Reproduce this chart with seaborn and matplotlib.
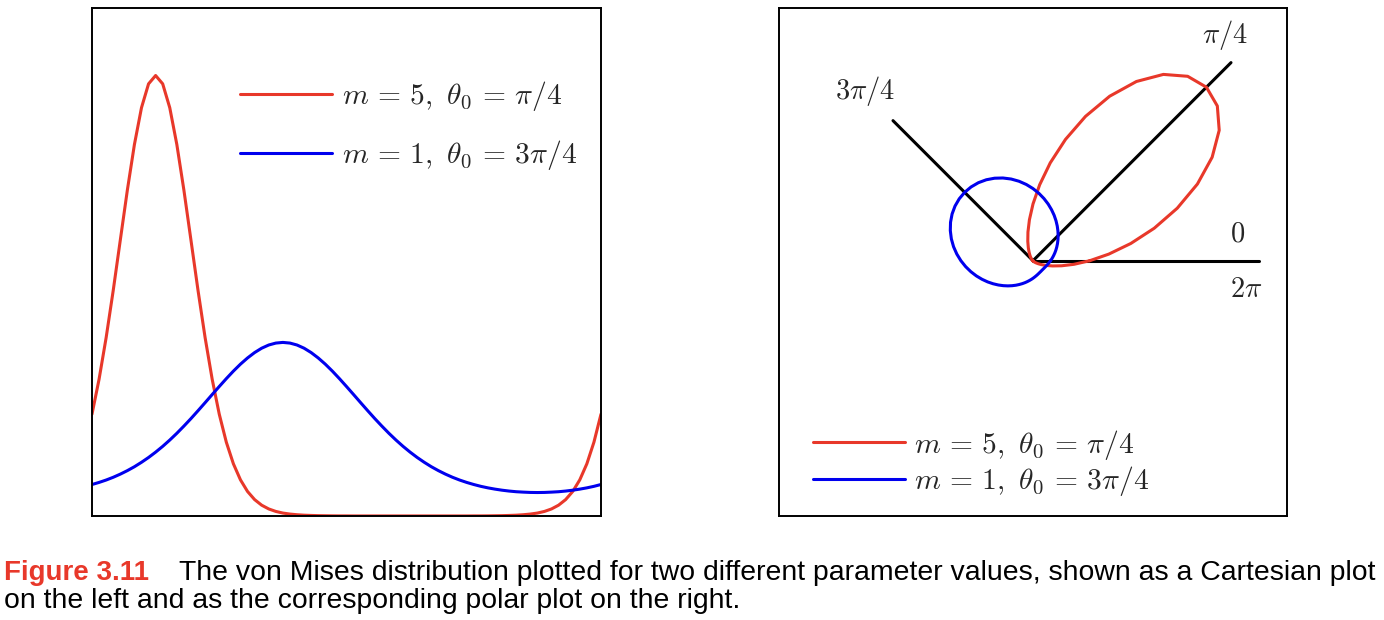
import matplotlib
matplotlib.use("Agg")
import matplotlib.pyplot as plt
import numpy as np
import pandas as pd
import seaborn as sns

# angles (degrees) at which the curves were sampled
angles_deg = np.arange(0, 361, 5)

# m = 5, theta0 = pi/4  (density values)
red_vals = [0.2005, 0.2692, 0.3511, 0.4438, 0.5428, 0.6414, 0.7313, 0.8037, 0.8507, 0.8671,
            0.8507, 0.8037, 0.7313, 0.6414, 0.5428, 0.4438, 0.3511, 0.2692, 0.2005, 0.1453,
            0.1028, 0.0712, 0.0483, 0.0323, 0.0213, 0.0139, 0.0090, 0.0058, 0.0038, 0.0025,
            0.0016, 0.0011, 0.0007, 0.0005, 0.0003, 0.0002, 0.0002, 0.0001, 0.0001, 0.0001,
            0.0001, 0.0001, 0.0001, 0.0001, 0.0001, 0.0001, 0.0001, 0.0001, 0.0001, 0.0001,
            0.0001, 0.0001, 0.0001, 0.0001, 0.0002, 0.0002, 0.0003, 0.0005, 0.0007, 0.0011,
            0.0016, 0.0025, 0.0038, 0.0058, 0.0090, 0.0139, 0.0213, 0.0323, 0.0483, 0.0712,
            0.1028, 0.1453, 0.2005]

# m = 1, theta0 = 3pi/4
blue_vals = [0.0620, 0.0661, 0.0708, 0.0762, 0.0824, 0.0893, 0.0970, 0.1057, 0.1152, 0.1257,
             0.1371, 0.1495, 0.1628, 0.1770, 0.1918, 0.2073, 0.2231, 0.2391, 0.2549, 0.2704,
             0.2852, 0.2989, 0.3111, 0.3217, 0.3303, 0.3366, 0.3404, 0.3417, 0.3404, 0.3366,
             0.3303, 0.3217, 0.3111, 0.2989, 0.2852, 0.2704, 0.2549, 0.2391, 0.2231, 0.2073,
             0.1918, 0.1770, 0.1628, 0.1495, 0.1371, 0.1257, 0.1152, 0.1057, 0.0970, 0.0893,
             0.0824, 0.0762, 0.0708, 0.0661, 0.0620, 0.0584, 0.0554, 0.0529, 0.0508, 0.0491,
             0.0478, 0.0470, 0.0464, 0.0462, 0.0464, 0.0470, 0.0478, 0.0491, 0.0508, 0.0529,
             0.0554, 0.0584, 0.0620]

labels = [r"$m \,=\, 5,\ \theta_0 \,=\, \pi/4$", r"$m \,=\, 1,\ \theta_0 \,=\, 3\pi/4$"]
colors = ["#e8382a", "#0000ee"]

# reference rays in the polar plot
ray_angles = [np.pi / 4, 3 * np.pi / 4, 0.0]
ray_lengths = [0.99, 0.70, 0.80]
ray_text = [r"$\pi/4$", r"$3\pi/4$", r"$0$", r"$2\pi$"]

sns.set_style("white")
plt.rcParams["mathtext.fontset"] = "cm"
plt.rcParams["font.family"] = ["Liberation Sans", "DejaVu Sans"]

FS = 20.5
LFS = 21.3

theta = np.deg2rad(angles_deg)
df = pd.DataFrame({
    "theta": np.concatenate([theta, theta]),
    "p": np.concatenate([red_vals, blue_vals]),
    "series": [labels[0]] * len(theta) + [labels[1]] * len(theta),
})
df["x"] = df["p"] * np.cos(df["theta"])
df["y"] = df["p"] * np.sin(df["theta"])

fig = plt.figure(figsize=(13.84, 6.2), dpi=100)
ax1 = fig.add_axes([92 / 1384, 1 - 516 / 620, 509 / 1384, 508 / 620])
ax2 = fig.add_axes([779 / 1384, 1 - 516 / 620, 508 / 1384, 508 / 620])

# cartesian plot
for lab, col in zip(labels, colors):
    d = df[df.series == lab]
    sns.lineplot(x=d["theta"].values, y=d["p"].values, ax=ax1, color=col, lw=2.2,
                 label=lab, sort=False, estimator=None)
ax1.set_xlim(0, 2 * np.pi)
ax1.set_ylim(0, 1.0)
ax1.legend(loc="upper left", bbox_to_anchor=(0.268, 0.883), frameon=False,
           fontsize=LFS, handlelength=3.1, handletextpad=0.33, labelspacing=0.85,
           borderaxespad=0)

# polar plot drawn on a cartesian axis
for a, l in zip(ray_angles, ray_lengths):
    ax2.plot([0, l * np.cos(a)], [0, l * np.sin(a)], color="black", lw=2.2)
for lab, col in zip(labels, colors):
    d = df[df.series == lab]
    sns.lineplot(x=d["x"].values, y=d["y"].values, ax=ax2, color=col, lw=2.2,
                 label=lab, sort=False, estimator=None)
ax2.set_xlim(-0.898, 0.898)
ax2.set_ylim(-0.902, 0.893)
ax2.text(0.677, 0.797, ray_text[0], fontsize=FS, ha="center", va="center")
ax2.text(-0.595, 0.601, ray_text[1], fontsize=FS, ha="center", va="center")
ax2.text(0.723, 0.094, ray_text[2], fontsize=FS, ha="center", va="center")
ax2.text(0.753, -0.104, ray_text[3], fontsize=FS, ha="center", va="center")
ax2.legend(loc="lower left", bbox_to_anchor=(0.044, 0.012), frameon=False,
           fontsize=LFS, handlelength=3.1, handletextpad=0.3, labelspacing=0.08,
           borderaxespad=0)

for ax in (ax1, ax2):
    ax.set_xticks([])
    ax.set_yticks([])
    ax.set_xlabel("")
    ax.set_ylabel("")
    for s in ax.spines.values():
        s.set_color("black")
        s.set_linewidth(1.4)

# caption
fig.text(4 / 1384, 1 - 579.5 / 620, "Figure 3.11", color="#e8382a", fontweight="bold",
         fontsize=20, va="baseline")
fig.text(179 / 1384, 1 - 579.5 / 620,
         "The von Mises distribution plotted for two different parameter values, shown as a Cartesian plot",
         color="black", fontsize=20.4, va="baseline")
fig.text(4 / 1384, 1 - 608 / 620,
         "on the left and as the corresponding polar plot on the right.",
         color="black", fontsize=20.4, va="baseline")

fig.savefig("out.png", dpi=100)
